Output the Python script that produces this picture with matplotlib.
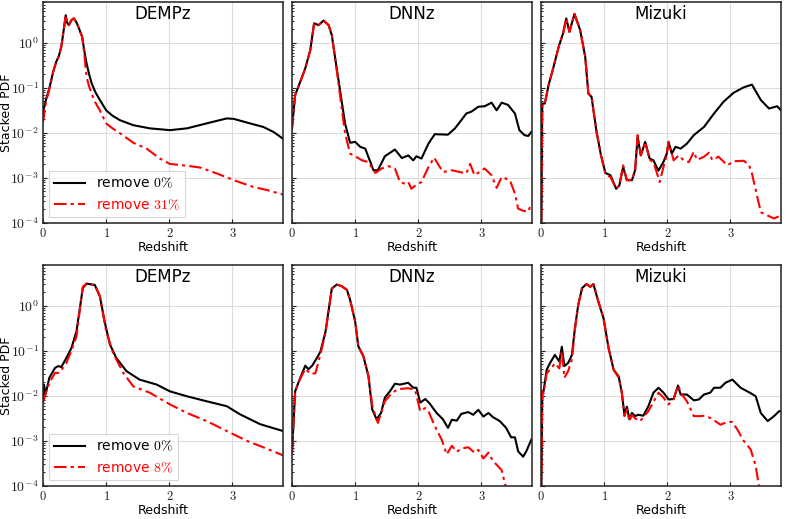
import numpy as np
import matplotlib
matplotlib.use("Agg")
import matplotlib.pyplot as plt
from matplotlib.ticker import FixedLocator, LogLocator, NullFormatter, FuncFormatter

plt.rcParams['mathtext.fontset'] = 'cm'
plt.rcParams['font.family'] = ['DejaVu Sans']

methods = ["DEMPz", "DNNz", "Mizuki"]
legend_labels_top = [r"remove $0\%$", r"remove $31\%$"]
legend_labels_bot = [r"remove $0\%$", r"remove $8\%$"]
x_label = "Redshift"
y_label = "Stacked PDF"

# ---- Top row (log10 of stacked PDF) ----
top_dempz_black_z = [0, 0.05, 0.106, 0.16, 0.21, 0.25, 0.29, 0.33, 0.36, 0.38, 0.41, 0.45, 0.49, 0.53, 0.58, 0.62, 0.65, 0.69, 0.73, 0.77, 0.83, 0.9, 1.0, 1.1, 1.22, 1.43, 1.69, 2.01, 2.28, 2.59, 2.91, 3.02, 3.2, 3.33, 3.49, 3.65, 3.8]
top_dempz_black_log = [-1.53, -1.25, -0.98, -0.65, -0.42, -0.3, -0.09, 0.3, 0.61, 0.45, 0.39, 0.5, 0.54, 0.45, 0.28, 0.13, -0.15, -0.46, -0.7, -0.9, -1.1, -1.27, -1.5, -1.62, -1.72, -1.83, -1.9, -1.94, -1.9, -1.79, -1.68, -1.69, -1.76, -1.81, -1.87, -1.98, -2.13]
top_dempz_red_z = [0, 0.05, 0.106, 0.16, 0.21, 0.25, 0.29, 0.33, 0.36, 0.38, 0.41, 0.45, 0.49, 0.53, 0.58, 0.62, 0.65, 0.69, 0.73, 0.77, 0.83, 0.9, 1.0, 1.1, 1.22, 1.43, 1.64, 1.85, 2.01, 2.28, 2.49, 2.75, 3.02, 3.33, 3.55, 3.8]
top_dempz_red_log = [-1.76, -1.3, -1.0, -0.65, -0.42, -0.3, -0.09, 0.3, 0.61, 0.45, 0.39, 0.5, 0.54, 0.45, 0.28, 0.13, -0.2, -0.76, -0.97, -1.13, -1.33, -1.5, -1.79, -1.9, -2.01, -2.22, -2.35, -2.57, -2.69, -2.73, -2.77, -2.9, -3.05, -3.2, -3.27, -3.37]

top_dnnz_black_z = [0, 0.05, 0.13, 0.21, 0.29, 0.35, 0.42, 0.5, 0.58, 0.63, 0.68, 0.76, 0.84, 0.92, 1.0, 1.08, 1.16, 1.29, 1.36, 1.47, 1.63, 1.74, 1.84, 1.92, 1.97, 2.05, 2.16, 2.26, 2.47, 2.58, 2.68, 2.76, 2.84, 2.95, 3.05, 3.16, 3.24, 3.32, 3.42, 3.53, 3.6, 3.68, 3.74, 3.79]
top_dnnz_black_log = [-1.9, -1.16, -0.87, -0.57, -0.16, 0.43, 0.39, 0.49, 0.39, 0.17, -0.31, -1.05, -1.79, -2.22, -2.2, -2.31, -2.35, -2.83, -2.83, -2.52, -2.37, -2.56, -2.5, -2.61, -2.52, -2.57, -2.24, -2.03, -2.04, -1.9, -1.72, -1.57, -1.53, -1.42, -1.41, -1.33, -1.5, -1.33, -1.38, -1.57, -1.94, -2.05, -2.07, -1.98]
top_dnnz_red_z = [0, 0.05, 0.13, 0.21, 0.29, 0.35, 0.42, 0.5, 0.58, 0.63, 0.68, 0.74, 0.79, 0.84, 0.92, 1.0, 1.11, 1.21, 1.32, 1.42, 1.53, 1.63, 1.71, 1.79, 1.84, 1.89, 1.97, 2.05, 2.16, 2.25, 2.39, 2.53, 2.66, 2.76, 2.82, 2.89, 3.05, 3.16, 3.24, 3.32, 3.45, 3.53, 3.58, 3.66, 3.74, 3.79]
top_dnnz_red_log = [-1.9, -1.16, -0.87, -0.57, -0.16, 0.43, 0.39, 0.49, 0.39, 0.17, -0.31, -0.95, -1.49, -2.01, -2.46, -2.52, -2.61, -2.65, -2.89, -2.79, -2.74, -2.79, -3.09, -3.13, -3.09, -3.24, -3.15, -3.09, -2.76, -2.55, -2.87, -2.83, -2.87, -2.9, -2.69, -2.94, -2.79, -2.94, -3.22, -2.98, -3.05, -3.35, -3.68, -3.73, -3.75, -3.56]

top_mizuki_black_z = [0.0, 0.005, 0.02, 0.06, 0.12, 0.2, 0.28, 0.35, 0.4, 0.45, 0.53, 0.62, 0.7, 0.75, 0.8, 0.88, 0.95, 1.02, 1.1, 1.19, 1.24, 1.3, 1.36, 1.44, 1.49, 1.53, 1.58, 1.65, 1.72, 1.78, 1.86, 1.94, 1.99, 2.02, 2.07, 2.13, 2.21, 2.31, 2.42, 2.58, 2.74, 2.89, 3.05, 3.21, 3.34, 3.48, 3.61, 3.74, 3.8]
top_mizuki_black_log = [-5.0, -4.2, -1.35, -1.35, -0.94, -0.53, -0.09, 0.21, 0.54, 0.24, 0.64, 0.28, -0.31, -1.13, -1.2, -1.98, -2.5, -2.89, -2.94, -3.24, -3.17, -2.76, -3.05, -3.05, -2.83, -2.09, -2.5, -2.2, -2.57, -2.61, -2.84, -2.64, -2.47, -2.2, -2.46, -2.31, -2.35, -2.24, -2.05, -1.87, -1.57, -1.31, -1.11, -0.99, -0.93, -1.27, -1.46, -1.41, -1.5]
top_mizuki_red_z = [0.0, 0.005, 0.02, 0.06, 0.12, 0.2, 0.28, 0.35, 0.4, 0.45, 0.53, 0.62, 0.7, 0.75, 0.8, 0.88, 0.95, 1.02, 1.1, 1.19, 1.24, 1.3, 1.36, 1.44, 1.49, 1.53, 1.58, 1.65, 1.72, 1.78, 1.88, 1.94, 1.99, 2.02, 2.1, 2.18, 2.26, 2.34, 2.42, 2.47, 2.58, 2.66, 2.71, 2.81, 2.95, 3.05, 3.21, 3.29, 3.34, 3.4, 3.48, 3.58, 3.69, 3.77]
top_mizuki_red_log = [-5.0, -4.2, -1.35, -1.35, -0.94, -0.53, -0.09, 0.21, 0.54, 0.24, 0.64, 0.28, -0.31, -1.13, -1.2, -1.98, -2.5, -2.92, -2.98, -3.24, -3.17, -2.72, -3.05, -3.05, -2.83, -2.05, -2.5, -2.2, -2.6, -2.65, -3.09, -2.75, -2.5, -2.2, -2.61, -2.5, -2.61, -2.65, -2.42, -2.6, -2.53, -2.44, -2.6, -2.53, -2.72, -2.63, -2.62, -2.7, -2.9, -3.27, -3.76, -3.83, -3.9, -3.85]

# ---- Bottom row (log10 of stacked PDF) ----
bot_dempz_black_z = [0, 0.015, 0.04, 0.1, 0.19, 0.24, 0.29, 0.37, 0.45, 0.53, 0.58, 0.63, 0.69, 0.82, 0.9, 0.98, 1.06, 1.16, 1.32, 1.53, 1.8, 2.01, 2.28, 2.59, 2.91, 3.12, 3.44, 3.8]
bot_dempz_black_log = [-2.08, -1.75, -1.97, -1.6, -1.38, -1.34, -1.36, -1.16, -0.94, -0.57, -0.09, 0.39, 0.49, 0.46, 0.21, -0.38, -0.86, -1.16, -1.45, -1.64, -1.75, -1.9, -2.01, -2.12, -2.23, -2.41, -2.63, -2.78]
bot_dempz_red_z = [0, 0.04, 0.1, 0.19, 0.26, 0.37, 0.45, 0.53, 0.58, 0.63, 0.69, 0.82, 0.9, 1.0, 1.11, 1.27, 1.43, 1.69, 2.01, 2.28, 2.59, 2.91, 3.23, 3.54, 3.8]
bot_dempz_red_log = [-2.15, -1.95, -1.71, -1.49, -1.49, -1.27, -1.0, -0.68, -0.12, 0.42, 0.49, 0.46, 0.21, -0.57, -1.05, -1.49, -1.79, -1.93, -2.19, -2.38, -2.56, -2.78, -3.0, -3.17, -3.32]

bot_dnnz_black_z = [0, 0.05, 0.13, 0.21, 0.26, 0.32, 0.39, 0.45, 0.53, 0.58, 0.63, 0.71, 0.79, 0.87, 0.92, 1.0, 1.05, 1.13, 1.21, 1.27, 1.34, 1.41, 1.47, 1.55, 1.63, 1.71, 1.84, 1.92, 1.97, 2.03, 2.11, 2.18, 2.29, 2.39, 2.47, 2.53, 2.61, 2.68, 2.79, 2.87, 2.95, 3.03, 3.11, 3.18, 3.29, 3.39, 3.47, 3.53, 3.58, 3.66, 3.71, 3.79]
bot_dnnz_black_log = [-3.27, -1.9, -1.6, -1.33, -1.41, -1.33, -1.17, -1.02, -0.58, -0.1, 0.38, 0.47, 0.43, 0.35, 0.13, -0.35, -0.9, -1.12, -1.56, -2.3, -2.52, -2.38, -2.04, -1.9, -1.73, -1.75, -1.71, -1.82, -1.82, -2.15, -2.07, -2.17, -2.38, -2.52, -2.71, -2.53, -2.55, -2.4, -2.36, -2.42, -2.31, -2.46, -2.38, -2.47, -2.56, -2.71, -2.92, -2.92, -3.23, -3.35, -3.23, -2.97]
bot_dnnz_red_z = [0, 0.05, 0.13, 0.21, 0.29, 0.37, 0.45, 0.53, 0.58, 0.63, 0.71, 0.79, 0.87, 0.92, 1.0, 1.05, 1.13, 1.21, 1.27, 1.32, 1.36, 1.47, 1.58, 1.68, 1.84, 1.95, 2.03, 2.11, 2.16, 2.26, 2.37, 2.45, 2.53, 2.61, 2.68, 2.79, 2.89, 2.95, 3.03, 3.11, 3.18, 3.32, 3.39, 3.5, 3.8]
bot_dnnz_red_log = [-3.27, -1.9, -1.62, -1.4, -1.51, -1.5, -1.08, -0.6, -0.12, 0.38, 0.47, 0.43, 0.35, 0.13, -0.35, -0.9, -1.12, -1.56, -2.2, -2.45, -2.6, -2.12, -1.94, -1.85, -1.83, -1.87, -2.34, -2.27, -2.34, -2.67, -2.97, -3.3, -3.11, -3.24, -3.17, -3.14, -3.26, -3.2, -3.39, -3.26, -3.44, -3.65, -4.05, -4.8, -5.5]

bot_mizuki_black_z = [0.0, 0.005, 0.02, 0.04, 0.09, 0.14, 0.22, 0.29, 0.33, 0.37, 0.43, 0.49, 0.54, 0.59, 0.65, 0.72, 0.78, 0.83, 0.9, 0.99, 1.07, 1.15, 1.23, 1.28, 1.32, 1.36, 1.4, 1.44, 1.49, 1.54, 1.62, 1.7, 1.78, 1.86, 1.94, 2.02, 2.1, 2.17, 2.21, 2.31, 2.42, 2.5, 2.58, 2.68, 2.74, 2.84, 2.92, 3.03, 3.16, 3.32, 3.4, 3.48, 3.59, 3.69, 3.77, 3.8]
bot_mizuki_black_log = [-5.0, -4.2, -1.9, -1.9, -1.42, -1.28, -1.09, -1.24, -0.91, -1.34, -1.27, -1.09, -0.46, 0.02, 0.39, 0.48, 0.42, 0.48, 0.13, -0.28, -0.94, -1.42, -1.57, -1.93, -2.41, -2.24, -2.52, -2.38, -2.45, -2.42, -2.44, -2.23, -1.93, -1.82, -1.93, -2.08, -2.07, -1.77, -1.97, -1.97, -2.1, -2.08, -1.97, -1.93, -1.82, -1.82, -1.71, -1.64, -1.82, -1.94, -2.01, -2.38, -2.56, -2.45, -2.34, -2.34]
bot_mizuki_red_z = [0.0, 0.005, 0.02, 0.04, 0.09, 0.14, 0.22, 0.29, 0.33, 0.37, 0.43, 0.49, 0.54, 0.59, 0.65, 0.72, 0.78, 0.83, 0.9, 0.99, 1.07, 1.15, 1.23, 1.28, 1.32, 1.36, 1.4, 1.44, 1.49, 1.57, 1.7, 1.86, 1.94, 2.02, 2.1, 2.17, 2.23, 2.31, 2.42, 2.52, 2.6, 2.71, 2.84, 2.95, 3.03, 3.11, 3.21, 3.32, 3.4, 3.45, 3.55]
bot_mizuki_red_log = [-5.0, -4.2, -1.9, -1.95, -1.5, -1.42, -1.28, -1.39, -1.01, -1.6, -1.45, -1.19, -0.5, 0.02, 0.39, 0.48, 0.42, 0.48, 0.13, -0.28, -0.94, -1.42, -1.6, -1.93, -2.45, -2.3, -2.56, -2.42, -2.5, -2.56, -2.34, -1.93, -2.04, -2.19, -2.07, -1.77, -1.97, -2.12, -2.45, -2.45, -2.44, -2.51, -2.64, -2.58, -2.58, -2.75, -3.0, -3.19, -3.56, -4.0, -5.0]

rows = [
    [(top_dempz_black_z, top_dempz_black_log, top_dempz_red_z, top_dempz_red_log),
     (top_dnnz_black_z, top_dnnz_black_log, top_dnnz_red_z, top_dnnz_red_log),
     (top_mizuki_black_z, top_mizuki_black_log, top_mizuki_red_z, top_mizuki_red_log)],
    [(bot_dempz_black_z, bot_dempz_black_log, bot_dempz_red_z, bot_dempz_red_log),
     (bot_dnnz_black_z, bot_dnnz_black_log, bot_dnnz_red_z, bot_dnnz_red_log),
     (bot_mizuki_black_z, bot_mizuki_black_log, bot_mizuki_red_z, bot_mizuki_red_log)],
]
legends = [legend_labels_top, legend_labels_bot]

fig = plt.figure(figsize=(7.89, 5.19), dpi=100)
W, H = 789.0, 519.0
lefts = [43, 292, 541]
width = 240
row_tops = [2, 265]
height = 221

for r in range(2):
    for c in range(3):
        ax = fig.add_axes([lefts[c] / W, 1 - (row_tops[r] + height) / H, width / W, height / H])
        bz, bl, rz, rl = rows[r][c]
        ax.plot(bz, 10 ** np.array(bl), color='black', lw=1.5, label=legends[r][0])
        ax.plot(rz, 10 ** np.array(rl), color='red', lw=1.5, ls=(0, (6, 2, 1.5, 2)), label=legends[r][1])
        ax.set_yscale('log')
        ax.set_ylim(1e-4, 8)
        ax.set_xlim(0, 3.8)
        ax.xaxis.set_major_locator(FixedLocator([0, 1, 2, 3]))
        ax.xaxis.set_major_formatter(FuncFormatter(lambda v, p: r'$%d$' % int(round(v))))
        ax.yaxis.set_major_locator(LogLocator(base=10, numticks=10))
        ax.yaxis.set_minor_locator(LogLocator(base=10, subs=np.arange(2, 10), numticks=20))
        ax.yaxis.set_minor_formatter(NullFormatter())
        ax.grid(True, which='major', color='#dcdcdc', lw=0.8)
        ax.set_axisbelow(True)
        for s in ax.spines.values():
            s.set_color('#222222')
            s.set_linewidth(1.1)
        ax.tick_params(axis='y', which='major', direction='in', labelsize=10, length=3, width=0.8,
                       colors='#222222', pad=3)
        ax.tick_params(axis='x', which='major', direction='in', labelsize=9, length=3, width=0.8,
                       colors='#222222', pad=3)
        ax.tick_params(axis='y', which='minor', direction='in', length=1.5, width=0.6)
        ax.set_xlabel(x_label, fontsize=9)
        ax.xaxis.set_label_coords(0.5, -0.082)
        ax.text(0.5, 0.945, methods[c], transform=ax.transAxes, ha='center', va='center', fontsize=12)
        if c == 0:
            ax.yaxis.set_major_formatter(FuncFormatter(lambda v, p: r'$10^{%d}$' % int(round(np.log10(v)))))
            ax.set_ylabel(y_label, fontsize=9)
            ax.yaxis.set_label_coords(-0.125, 0.5)
            leg = ax.legend(loc='lower left', fontsize=10, frameon=True, fancybox=False,
                            edgecolor='#cccccc', handlelength=2.2, borderaxespad=0.4)
            leg.get_frame().set_linewidth(0.8)
            leg.get_texts()[1].set_color('red')
        else:
            ax.yaxis.set_major_formatter(NullFormatter())

fig.savefig('out.png', dpi=100)
